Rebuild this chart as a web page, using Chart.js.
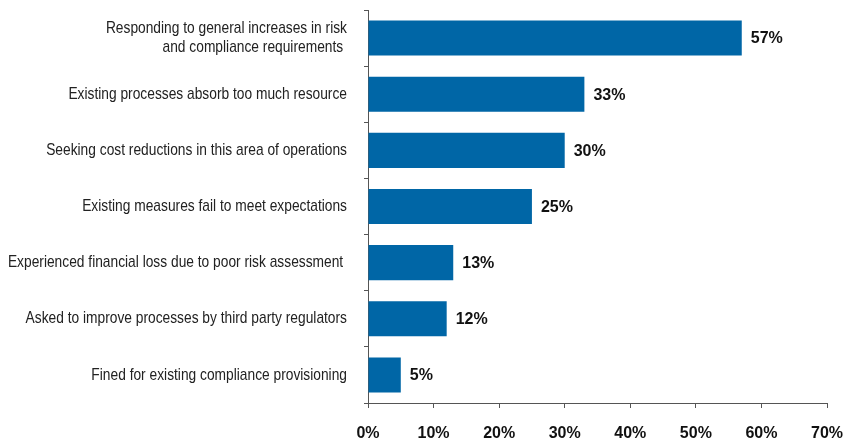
<!DOCTYPE html>
<html>
<head>
<meta charset="utf-8">
<script src="https://cdn.jsdelivr.net/npm/chart.js@4/dist/chart.umd.min.js"></script>
<style>
  html, body { margin: 0; padding: 0; background: #fff; }
  #wrap { width: 848px; height: 438px; }
</style>
</head>
<body>
<div id="wrap"><canvas id="chart"></canvas></div>
<script>
"use strict";

const REASONS = [
  ["Responding to general increases in risk", "and compliance requirements "],
  "Existing processes absorb too much resource",
  "Seeking cost reductions in this area of operations",
  "Existing measures fail to meet expectations",
  "Experienced financial loss due to poor risk assessment ",
  "Asked to improve processes by third party regulators",
  "Fined for existing compliance provisioning",
];
const SHARE = [57, 33, 30, 25, 13, 12, 5];
const X_TICKS = [0, 10, 20, 30, 40, 50, 60, 70];

const BAR_COLOR = "#0066a6";
const TEXT_COLOR = "#222222";
const AXIS_COLOR = "#555555";
const FONT = "'Liberation Sans', Arial, sans-serif";
const LABEL_SIZE = 17;
const LABEL_SQUEEZE = 0.81; // no narrow face installed, so condense by hand

// category labels, right aligned against the y axis, condensed horizontally
const categoryLabels = {
  id: "categoryLabels",
  afterDraw(c) {
    const { ctx } = c;
    const y = c.scales.y;
    const right = y.right - 21;
    const lineH = 19;
    ctx.save();
    ctx.fillStyle = TEXT_COLOR;
    ctx.font = LABEL_SIZE + "px " + FONT;
    ctx.textAlign = "right";
    ctx.textBaseline = "middle";
    REASONS.forEach((label, i) => {
      const lines = Array.isArray(label) ? label : [label];
      const cy = y.getPixelForValue(i);
      const top = cy - (lines.length - 1) * lineH / 2;
      lines.forEach((line, k) => {
        ctx.save();
        ctx.translate(right, top + k * lineH);
        ctx.scale(LABEL_SQUEEZE, 1);
        ctx.fillText(line, 0, 0);
        ctx.restore();
      });
    });
    ctx.restore();
  },
};

// value labels just past the end of each bar
const valueLabels = {
  id: "valueLabels",
  afterDatasetsDraw(c) {
    const { ctx } = c;
    const meta = c.getDatasetMeta(0);
    ctx.save();
    ctx.fillStyle = "#111";
    ctx.font = "bold 16px " + FONT;
    ctx.textAlign = "left";
    ctx.textBaseline = "middle";
    meta.data.forEach((bar, i) => {
      ctx.fillText(SHARE[i] + "%", bar.x + 9, bar.y + 1);
    });
    ctx.restore();
  },
};

new Chart(document.getElementById("chart"), {
  type: "bar",
  data: {
    labels: REASONS,
    datasets: [{
      data: SHARE,
      backgroundColor: BAR_COLOR,
      borderWidth: 0,
      barPercentage: 0.625,
      categoryPercentage: 1,
    }],
  },
  options: {
    indexAxis: "y",
    responsive: true,
    maintainAspectRatio: false,
    animation: false,
    layout: { padding: { top: 10, left: 0, right: 21, bottom: 0 } },
    scales: {
      x: {
        min: 0,
        max: 70,
        afterBuildTicks: (axis) => { axis.ticks = X_TICKS.map((v) => ({ value: v })); },
        afterFit: (axis) => {
          axis.height = 35;
          axis.paddingLeft = 0;
          axis.paddingRight = 0;
        },
        ticks: {
          color: "#111",
          font: { family: FONT, size: 16, weight: "bold" },
          padding: 16,
          maxRotation: 0,
          callback: (v) => v + "%",
        },
        grid: { drawOnChartArea: false, tickLength: 5, color: AXIS_COLOR },
        border: { color: AXIS_COLOR, width: 1 },
      },
      y: {
        afterFit: (axis) => { axis.width = 368; },
        ticks: { display: false },
        grid: { drawOnChartArea: false, tickLength: 4, color: AXIS_COLOR, offset: true },
        border: { color: AXIS_COLOR, width: 1 },
      },
    },
    plugins: {
      legend: { display: false },
      tooltip: { enabled: false },
    },
  },
  plugins: [valueLabels, categoryLabels],
});
</script>
</body>
</html>
